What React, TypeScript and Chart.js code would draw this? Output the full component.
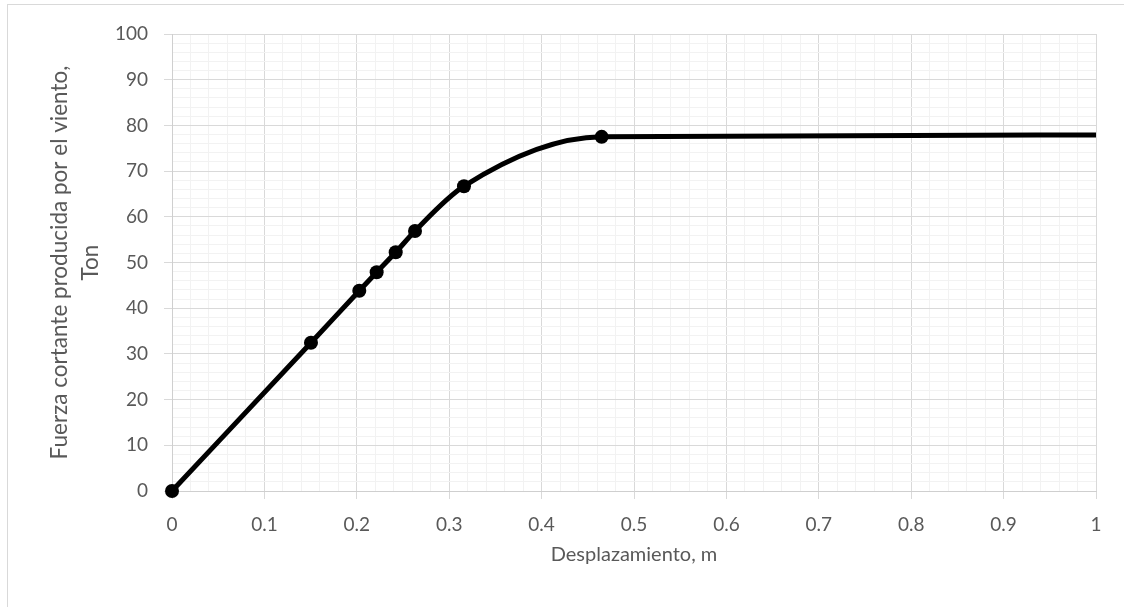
import React, { useEffect, useRef } from "react";
import { Chart, registerables } from "chart.js";

Chart.register(...registerables);

const desplazamiento = [0, 0.1504, 0.2027, 0.2215, 0.2421, 0.263, 0.316, 0.465, 1.0];
const fuerza = [0, 32.45, 43.83, 47.86, 52.23, 56.9, 66.7, 77.5, 77.9];
const markerShown = [true, true, true, true, true, true, true, true, false];

const xTitle = "Desplazamiento, m";
const yTitle = ["Fuerza cortante producida por el viento,", "Ton"];

const FONT = "Lato, 'Open Sans', sans-serif";
const TEXT = "#595959";
const MAJOR = "#d9d9d9";
const MINOR = "#f2f2f2";

const isMajor = (v: number, step: number) => Math.abs(v / step - Math.round(v / step)) < 1e-6;

export default function App() {
  const ref = useRef<HTMLCanvasElement | null>(null);
  useEffect(() => {
    if (!ref.current) return;
    const chart = new Chart(ref.current, {
      type: "line",
      data: {
        datasets: [
          {
            data: desplazamiento.map((x, i) => ({ x, y: fuerza[i] })),
            borderColor: "#000000",
            backgroundColor: "#000000",
            borderWidth: 5,
            pointRadius: markerShown.map((m) => (m ? 7 : 0)),
            pointBorderWidth: 0,
            pointBackgroundColor: "#000000",
            cubicInterpolationMode: "monotone",
            clip: false,
            fill: false,
          },
        ],
      },
      options: {
        animation: false,
        responsive: true,
        maintainAspectRatio: false,
        layout: { padding: { top: 29, right: 24, left: 0, bottom: 0 } },
        plugins: { legend: { display: false }, tooltip: { enabled: false } },
        scales: {
          x: {
            type: "linear",
            min: 0,
            max: 1,
            afterFit: (s: any) => {
              s.height = 114;
            },
            ticks: {
              stepSize: 0.02,
              autoSkip: false,
              maxRotation: 0,
              padding: 14,
              color: TEXT,
              font: { family: FONT, size: 19 },
              callback: (v: any) => (isMajor(Number(v), 0.1) ? String(Math.round(Number(v) * 10) / 10) : ""),
            },
            grid: {
              color: (c: any) => (c.tick && isMajor(c.tick.value, 0.1) ? MAJOR : MINOR),
              tickColor: (c: any) => (c.tick && isMajor(c.tick.value, 0.1) ? MAJOR : "rgba(0,0,0,0)"),
              tickLength: 8,
              lineWidth: 1,
            },
            border: { color: "#cfcfcf", width: 1 },
            title: {
              display: true,
              text: xTitle,
              color: TEXT,
              font: { family: FONT, size: 20, lineHeight: 1.2 },
              padding: { top: 0, bottom: 38 },
            },
          },
          y: {
            type: "linear",
            min: 0,
            max: 100,
            afterFit: (s: any) => {
              s.width = 164;
            },
            ticks: {
              stepSize: 2,
              autoSkip: false,
              padding: 16,
              color: TEXT,
              font: { family: FONT, size: 19 },
              callback: (v: any) => (isMajor(Number(v), 10) ? String(Math.round(Number(v))) : ""),
            },
            grid: {
              color: (c: any) => (c.tick && isMajor(c.tick.value, 10) ? MAJOR : MINOR),
              tickColor: (c: any) => (c.tick && isMajor(c.tick.value, 10) ? MAJOR : "rgba(0,0,0,0)"),
              tickLength: 8,
              lineWidth: 1,
            },
            border: { color: "#cfcfcf", width: 1 },
            title: {
              display: true,
              text: yTitle,
              color: TEXT,
              font: { family: FONT, size: 22.5, lineHeight: 1.35 },
              padding: { top: 37, bottom: 0 },
            },
          },
        },
      },
    });
    return () => chart.destroy();
  }, []);

  return (
    <div
      style={{
        position: "absolute",
        left: 7,
        top: 4,
        width: 1117,
        height: 603,
        boxSizing: "border-box",
        borderLeft: "1px solid #d9d9d9",
        borderTop: "1px solid #d9d9d9",
        background: "#ffffff",
      }}
    >
      <div style={{ position: "absolute", left: 0, top: 0, width: 1112, height: 600 }}>
        <canvas ref={ref} />
      </div>
    </div>
  );
}
